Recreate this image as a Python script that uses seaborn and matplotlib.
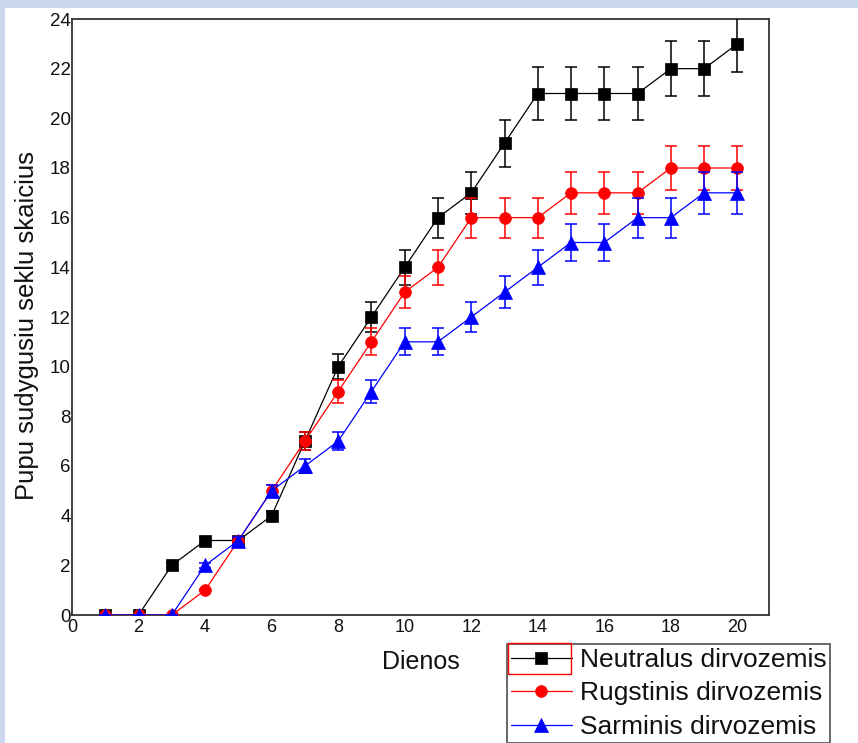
import pandas as pd
import seaborn as sns
import matplotlib.pyplot as plt
from matplotlib.patches import Rectangle

days = list(range(1, 21))

neutralus = [0, 0, 2, 3, 3, 4, 7, 10, 12, 14, 16, 17, 19, 21, 21, 21, 21, 22, 22, 23]
neutralus_err = [0, 0, 0.1, 0.15, 0.15, 0.2, 0.35, 0.5, 0.6, 0.7, 0.8, 0.85, 0.95, 1.05, 1.05, 1.05, 1.05, 1.1, 1.1, 1.15]

rugstinis = [0, 0, 0, 1, 3, 5, 7, 9, 11, 13, 14, 16, 16, 16, 17, 17, 17, 18, 18, 18]
rugstinis_err = [0, 0, 0, 0.05, 0.15, 0.25, 0.35, 0.45, 0.55, 0.65, 0.7, 0.8, 0.8, 0.8, 0.85, 0.85, 0.85, 0.9, 0.9, 0.9]

sarminis = [0, 0, 0, 2, 3, 5, 6, 7, 9, 11, 11, 12, 13, 14, 15, 15, 16, 16, 17, 17]
sarminis_err = [0, 0, 0, 0.1, 0.15, 0.25, 0.3, 0.35, 0.45, 0.55, 0.55, 0.6, 0.65, 0.7, 0.75, 0.75, 0.8, 0.8, 0.85, 0.85]

names = ["Neutralus dirvozemis", "Rugstinis dirvozemis", "Sarminis dirvozemis"]
colors = ["#000000", "#ff0000", "#0000ff"]
markers = ["s", "o", "^"]
msizes = [9, 8.5, 10.5]

frames = []
for name, vals, errs in zip(names, [neutralus, rugstinis, sarminis],
                            [neutralus_err, rugstinis_err, sarminis_err]):
    frames.append(pd.DataFrame({"day": days, "value": vals, "err": errs, "series": name}))
df = pd.concat(frames, ignore_index=True)

sns.set_theme(style="white")
plt.rcParams["font.family"] = ["Liberation Sans", "DejaVu Sans"]

fig = plt.figure(figsize=(8.58, 7.43), dpi=100, facecolor="#c8d7ee")
fig.add_artist(Rectangle((5 / 858, 0), 1, 1 - 8 / 743, transform=fig.transFigure,
                         facecolor="white", edgecolor="none", zorder=-5))
ax = fig.add_axes([72 / 858, 1 - 615 / 743, (769 - 72) / 858, (615 - 19) / 743])

for i, name in enumerate(names):
    sub = df[df["series"] == name]
    sns.lineplot(data=sub, x="day", y="value", ax=ax, color=colors[i], marker=markers[i],
                 markersize=msizes[i], markeredgecolor=colors[i], markeredgewidth=0.5,
                 linewidth=0.9, label=name, zorder=3 + i, errorbar=None)
    ax.errorbar(sub["day"], sub["value"], yerr=sub["err"], fmt="none", ecolor=colors[i],
                elinewidth=1.1, capsize=4.3, capthick=1.1, zorder=3 + i)

ax.set_xlim(0, 20.95)
ax.set_ylim(0, 24)
ax.set_xticks(range(0, 21, 2))
ax.set_yticks(range(0, 25, 2))
ax.tick_params(length=0)
ax.tick_params(axis="x", pad=3, labelsize=13, labelcolor="#111111")
ax.tick_params(axis="y", pad=1, labelsize=13.5, labelcolor="#111111")

for s in ax.spines.values():
    s.set_color("#333333")
    s.set_linewidth(1.3)

ax.set_xlabel("Dienos", fontsize=18, color="#111111")
ax.set_ylabel("Pupu sudygusiu seklu skaicius", fontsize=18.5, color="#111111")
ax.xaxis.set_label_coords(0.5, -0.058)
ax.yaxis.set_label_coords(-0.048, 0.485)

handles, labels = ax.get_legend_handles_labels()
ax.get_legend().remove()
leg = fig.legend(handles, labels, loc="upper left", bbox_to_anchor=(507 / 858, 1 - 644 / 743),
                 fontsize=19, frameon=True, fancybox=False, borderpad=0.15,
                 handlelength=2.3, handletextpad=0.3, labelspacing=0.36, borderaxespad=0)
leg.get_frame().set_edgecolor("#333333")
leg.get_frame().set_linewidth(1.3)
for t in leg.get_texts():
    t.set_color("#111111")

# selection box around the first legend key
fig.add_artist(Rectangle((508 / 858, 1 - 674 / 743), 63 / 858, 31 / 743, transform=fig.transFigure,
                         facecolor="none", edgecolor="#ff0000", linewidth=1, zorder=10))

plt.savefig("out.png", dpi=100, facecolor=fig.get_facecolor())
